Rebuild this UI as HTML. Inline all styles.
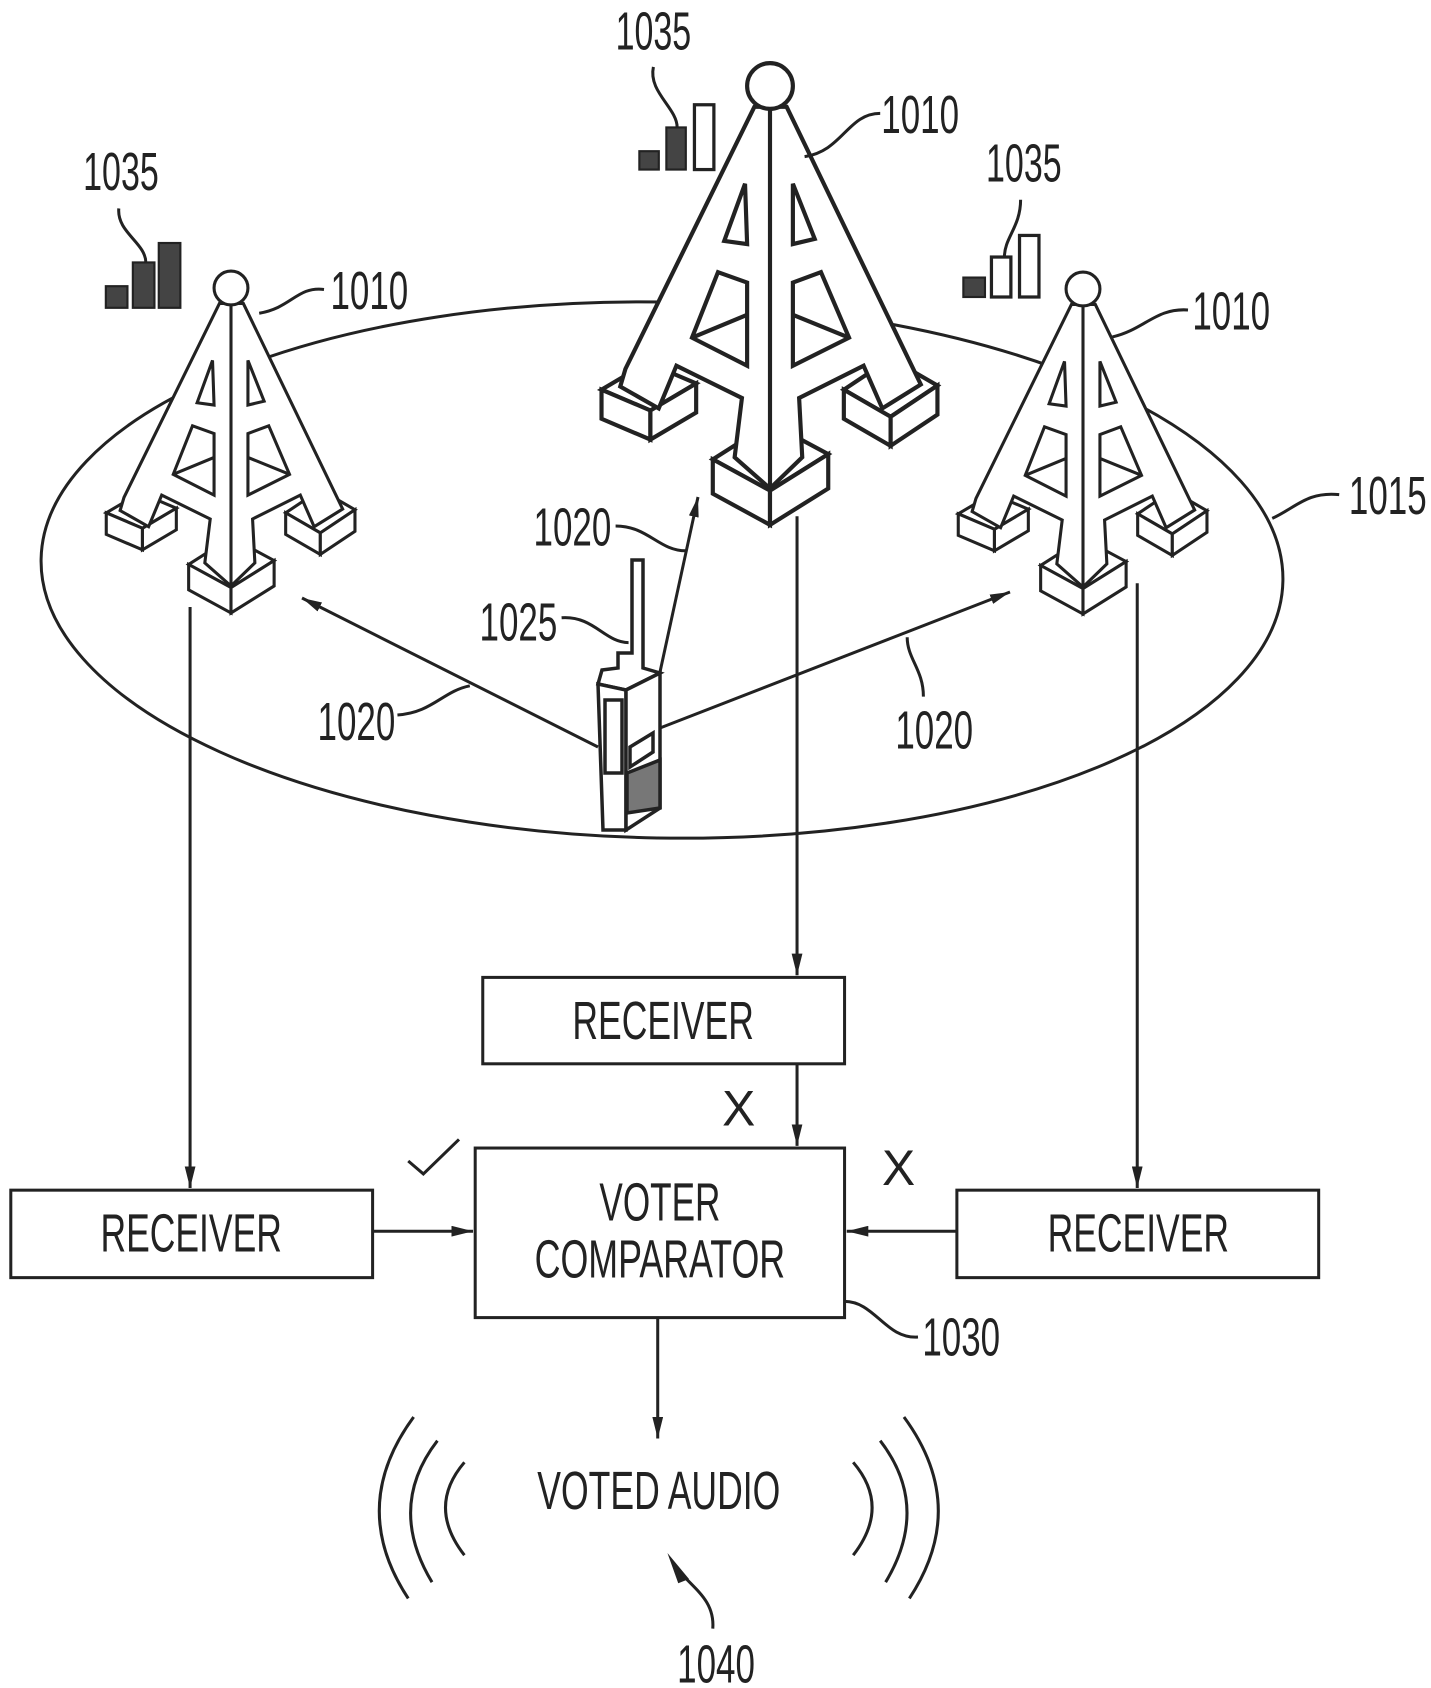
<!DOCTYPE html>
<html><head><meta charset="utf-8"><style>html,body{margin:0;padding:0;background:#fff}svg{display:block}</style></head>
<body>
<svg width="1431" height="1688" viewBox="0 0 1431 1688" xmlns="http://www.w3.org/2000/svg">
<defs>
<marker id="ah" viewBox="0 0 20 10" refX="20" refY="5" markerWidth="20" markerHeight="10" markerUnits="userSpaceOnUse" orient="auto"><path d="M0,0 L20,5 L0,10 z" fill="#222"/></marker>
<g id="tw" stroke="#222" stroke-width="4" fill="#fff" stroke-linejoin="miter">
 <polygon points="605,370 649,344 696,364 652,390"/>
 <polygon points="605,370 652,390 652,418 605,398"/>
 <polygon points="652,390 696,364 696,392 652,418"/>
 <polygon points="838,370 883,340 928,366 883,396"/>
 <polygon points="838,370 883,396 883,424 838,398"/>
 <polygon points="883,396 928,366 928,394 883,424"/>
 <polygon points="712,437 767,402 823,432 767,467"/>
 <polygon points="712,437 767,467 767,500 712,470"/>
 <polygon points="767,467 823,432 823,465 767,500"/>
 <polygon points="752,98 628,350 623,367 660,388 677,347 740,378 733,435 767,465 798,435 795,378 857,347 875,388 912,365 783,98"/>
 <line x1="767" y1="100" x2="767" y2="465"/>
 <polygon points="743,172 723,227 745,230"/>
 <polygon points="789,172 789,230 810,225"/>
 <polygon points="717,257 745,267 745,347 692,320"/>
 <line x1="745" y1="298" x2="692" y2="320"/>
 <polygon points="789,267 816,257 843,320 789,347"/>
 <line x1="789" y1="298" x2="843" y2="320"/>
 <circle cx="767" cy="78" r="22"/>
</g>
</defs>

<g fill="none" stroke="#222" stroke-width="3">
 <ellipse cx="662" cy="570" rx="621" ry="268" transform="rotate(1 662 570)"/>
</g>

<use href="#tw" transform="translate(770,86) scale(1.04) translate(-767,-78)"/>
<use href="#tw" transform="translate(231,288) scale(0.77) translate(-767,-78)"/>
<use href="#tw" transform="translate(1083,289) scale(0.77) translate(-767,-78)"/>

<!-- phone -->
<g stroke="#222" stroke-width="3.5" fill="#fff" stroke-linejoin="miter">
 <polygon points="602,670 618,668 618,653 632,653 632,560 643,560 643,668 660,673 626,690 598,684"/>
 <polygon points="598,684 626,690 626,830 603,830"/>
 <polygon points="626,690 660,673 660,808 626,830"/>
 <rect x="605" y="700" width="17" height="73"/>
 <polygon points="630,747 653,733 653,752 630,767"/>
 <polygon points="627,773 660,760 660,808 627,813" fill="#777"/>
</g>
<g stroke="#222" stroke-width="3" fill="none">
 <line x1="598" y1="747" x2="302" y2="598" marker-end="url(#ah)"/>
 <line x1="660" y1="672" x2="698" y2="497" marker-end="url(#ah)"/>
 <line x1="660" y1="728" x2="1010" y2="592" marker-end="url(#ah)"/>
</g>

<g transform="scale(1.08)">
 <g stroke="#222" stroke-width="2.8" fill="none">
  <line x1="176" y1="562" x2="176" y2="1100" marker-end="url(#ah)"/>
  <line x1="738" y1="478" x2="738" y2="903" marker-end="url(#ah)"/>
  <line x1="1053" y1="540" x2="1053" y2="1100" marker-end="url(#ah)"/>
  <line x1="738" y1="985" x2="738" y2="1061" marker-end="url(#ah)"/>
  <line x1="345" y1="1140" x2="438" y2="1140" marker-end="url(#ah)"/>
  <line x1="886" y1="1140" x2="784" y2="1140" marker-end="url(#ah)"/>
  <line x1="609" y1="1220" x2="609" y2="1332" marker-end="url(#ah)"/>
  <rect x="447" y="905" width="335" height="80"/>
  <rect x="10" y="1102" width="335" height="81"/>
  <rect x="886" y="1102" width="335" height="81"/>
  <rect x="440" y="1063" width="342" height="157"/>
  <path d="M378,1075 L392,1087 L425,1055"/>
  <path d="M1178,480 C1200,470 1210,455 1240,458"/>
  <path d="M782,1205 C810,1205 820,1240 850,1238"/>
  <path d="M110,193 C108,215 135,225 135,243"/>
  <path d="M605,62 C600,85 627,100 627,118"/>
  <path d="M945,185 C945,210 930,220 930,238"/>
  <path d="M240,290 C270,285 275,265 300,268"/>
  <path d="M745,145 C780,140 785,105 815,105"/>
  <path d="M1030,312 C1060,305 1070,285 1100,287"/>
  <path d="M570,487 C600,487 610,510 635,510"/>
  <path d="M520,572 C550,570 560,595 582,595"/>
  <path d="M368,662 C400,660 410,640 435,635"/>
  <path d="M855,645 C855,620 840,610 840,590"/>
  <path d="M660,1508 C662,1480 640,1470 625,1450"/>
  <path d="M430,1354 Q395,1395 430,1440"/>
  <path d="M405,1334 Q358,1395 400,1465"/>
  <path d="M383,1312 Q322,1395 378,1480"/>
  <path d="M790,1354 Q825,1395 790,1440"/>
  <path d="M815,1334 Q862,1395 820,1465"/>
  <path d="M837,1312 Q898,1395 842,1480"/>
 </g>
 <path d="M618,1438 L638,1462 L628,1466 z" fill="#222"/>
 <g fill="#444" stroke="#222" stroke-width="2">
  <rect x="98" y="265" width="20" height="20"/><rect x="123" y="243" width="20" height="42"/><rect x="147" y="225" width="20" height="60"/>
  <rect x="592" y="140" width="18" height="17"/><rect x="617" y="118" width="18" height="39"/><rect x="643" y="97" width="18" height="60" fill="#fff" stroke-width="3"/>
  <rect x="892" y="257" width="20" height="18"/><rect x="918" y="238" width="18" height="37" fill="#fff" stroke-width="3"/><rect x="944" y="218" width="18" height="57" fill="#fff" stroke-width="3"/>
 </g>
 <g font-family="Liberation Sans, sans-serif" font-size="50" fill="#222" text-anchor="middle">
  <text x="112" y="176" textLength="70" lengthAdjust="spacingAndGlyphs">1035</text>
  <text x="605" y="46" textLength="70" lengthAdjust="spacingAndGlyphs">1035</text>
  <text x="948" y="168" textLength="70" lengthAdjust="spacingAndGlyphs">1035</text>
  <text x="342" y="286" textLength="72" lengthAdjust="spacingAndGlyphs">1010</text>
  <text x="852" y="123" textLength="72" lengthAdjust="spacingAndGlyphs">1010</text>
  <text x="1140" y="305" textLength="72" lengthAdjust="spacingAndGlyphs">1010</text>
  <text x="1285" y="476" textLength="72" lengthAdjust="spacingAndGlyphs">1015</text>
  <text x="530" y="505" textLength="72" lengthAdjust="spacingAndGlyphs">1020</text>
  <text x="480" y="593" textLength="72" lengthAdjust="spacingAndGlyphs">1025</text>
  <text x="330" y="685" textLength="72" lengthAdjust="spacingAndGlyphs">1020</text>
  <text x="865" y="693" textLength="72" lengthAdjust="spacingAndGlyphs">1020</text>
  <text x="890" y="1255" textLength="72" lengthAdjust="spacingAndGlyphs">1030</text>
  <text x="663" y="1558" textLength="72" lengthAdjust="spacingAndGlyphs">1040</text>
  <text x="614" y="962" textLength="168" lengthAdjust="spacingAndGlyphs">RECEIVER</text>
  <text x="177" y="1159" textLength="168" lengthAdjust="spacingAndGlyphs">RECEIVER</text>
  <text x="1054" y="1159" textLength="168" lengthAdjust="spacingAndGlyphs">RECEIVER</text>
  <text x="611" y="1130" textLength="112" lengthAdjust="spacingAndGlyphs">VOTER</text>
  <text x="611" y="1183" textLength="232" lengthAdjust="spacingAndGlyphs">COMPARATOR</text>
  <text x="610" y="1397" textLength="225" lengthAdjust="spacingAndGlyphs">VOTED AUDIO</text>
  <text x="684" y="1042" font-size="46">X</text>
  <text x="832" y="1097" font-size="46">X</text>
 </g>
</g>
</svg>
</body></html>
